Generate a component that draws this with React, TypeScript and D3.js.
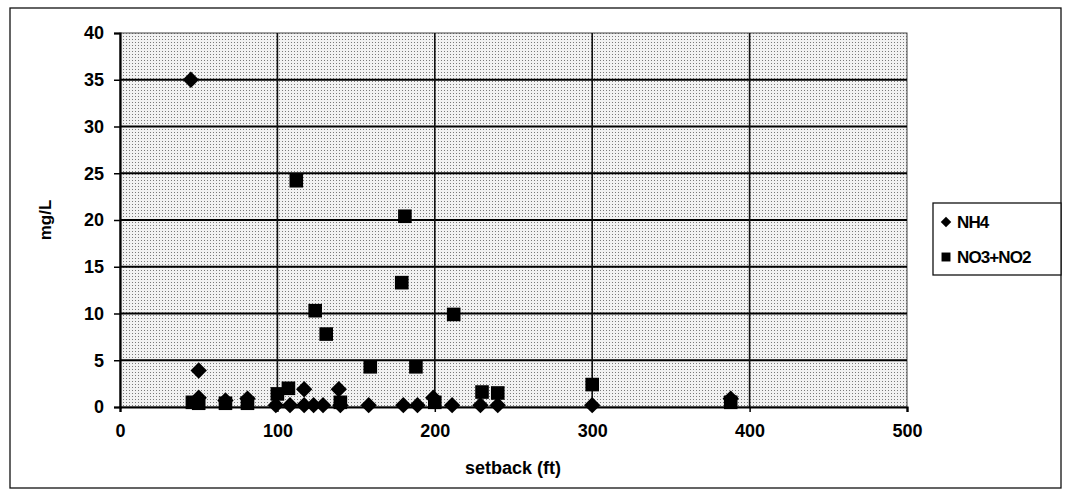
import React, { useEffect, useRef } from 'react';
import * as d3 from 'd3';

// setback (ft), mg/L
const nh4X = [45, 50, 50, 67, 81, 99, 108, 117, 117, 123, 129, 139, 140, 158, 180, 189, 199, 211, 229, 240, 300, 388];
const nh4Y = [35, 3.9, 1.0, 0.7, 0.9, 0.2, 0.2, 1.9, 0.2, 0.2, 0.2, 1.9, 0.2, 0.2, 0.2, 0.2, 1.0, 0.2, 0.2, 0.2, 0.2, 0.9];

const no3X = [46, 50, 67, 81, 100, 107, 112, 124, 131, 140, 159, 179, 181, 188, 200, 212, 230, 240, 300, 388];
const no3Y = [0.5, 0.4, 0.4, 0.4, 1.4, 2.0, 24.2, 10.3, 7.8, 0.5, 4.3, 13.3, 20.4, 4.3, 0.5, 9.9, 1.6, 1.5, 2.4, 0.5];

const xTicks = [0, 100, 200, 300, 400, 500];
const yTicks = [0, 5, 10, 15, 20, 25, 30, 35, 40];
const seriesNames = ['NH4', 'NO3+NO2'];

const FONT = '"Liberation Sans", Arial, sans-serif';

const App: React.FC = () => {
  const svgRef = useRef<SVGSVGElement | null>(null);

  useEffect(() => {
    if (!svgRef.current) return;
    const svg = d3.select(svgRef.current);
    svg.selectAll('*').remove();

    const plot = { left: 120, right: 907, top: 33, bottom: 407 };

    // outer frame
    svg.append('rect')
      .attr('x', 10).attr('y', 8)
      .attr('width', 1051).attr('height', 480)
      .attr('fill', 'white')
      .attr('stroke', '#111').attr('stroke-width', 1.3);

    // dotted gray fill like the scan
    const defs = svg.append('defs');
    const pat = defs.append('pattern')
      .attr('id', 'dots')
      .attr('width', 3).attr('height', 3)
      .attr('patternUnits', 'userSpaceOnUse');
    pat.append('rect').attr('width', 3).attr('height', 3).attr('fill', '#f2f2f2');
    pat.append('rect').attr('width', 1).attr('height', 1).attr('fill', '#7a7a7a');

    const x = d3.scaleLinear().domain([0, 500]).range([plot.left, plot.right]);
    const y = d3.scaleLinear().domain([0, 40]).range([plot.bottom, plot.top]);

    svg.append('rect')
      .attr('x', plot.left).attr('y', plot.top)
      .attr('width', plot.right - plot.left).attr('height', plot.bottom - plot.top)
      .attr('fill', 'url(#dots)')
      .attr('stroke', '#444').attr('stroke-width', 1);

    // gridlines
    svg.append('g')
      .selectAll('line')
      .data(yTicks.slice(1, -1))
      .join('line')
      .attr('x1', plot.left).attr('x2', plot.right)
      .attr('y1', d => y(d)).attr('y2', d => y(d))
      .attr('stroke', '#000').attr('stroke-width', 2.2);

    svg.append('g')
      .selectAll('line')
      .data(xTicks.slice(1, -1))
      .join('line')
      .attr('x1', d => x(d)).attr('x2', d => x(d))
      .attr('y1', plot.top).attr('y2', plot.bottom)
      .attr('stroke', '#111').attr('stroke-width', 1.6);

    // axes
    const xAxis = d3.axisBottom(x).tickValues(xTicks).tickSize(5).tickPadding(12);
    const yAxis = d3.axisLeft(y).tickValues(yTicks).tickSize(6).tickPadding(10);

    const gx = svg.append('g')
      .attr('transform', `translate(0,${plot.bottom})`)
      .call(xAxis);
    const gy = svg.append('g')
      .attr('transform', `translate(${plot.left},0)`)
      .call(yAxis);

    [gx, gy].forEach(g => {
      g.select('.domain').attr('stroke', '#000').attr('stroke-width', 2.2);
      g.selectAll('.tick line').attr('stroke', '#000').attr('stroke-width', 1.5);
      g.selectAll('.tick text')
        .attr('font-family', FONT)
        .attr('font-weight', 'bold')
        .attr('font-size', 18)
        .attr('fill', '#000');
    });

    // axis labels
    svg.append('text')
      .attr('x', 513)
      .attr('y', 474)
      .attr('text-anchor', 'middle')
      .attr('font-family', FONT)
      .attr('font-weight', 'bold')
      .attr('font-size', 18)
      .text('setback (ft)');

    svg.append('text')
      .attr('transform', 'rotate(-90)')
      .attr('x', -(plot.top + plot.bottom) / 2)
      .attr('y', 51)
      .attr('text-anchor', 'middle')
      .attr('font-family', FONT)
      .attr('font-weight', 'bold')
      .attr('font-size', 17)
      .text('mg/L');

    const diamond = d3.symbol().type(d3.symbolDiamond2).size(170);
    const square = d3.symbol().type(d3.symbolSquare).size(185);

    const nh4 = nh4X.map((v, i) => [v, nh4Y[i]]);
    const no3 = no3X.map((v, i) => [v, no3Y[i]]);

    svg.append('g')
      .selectAll('path')
      .data(no3)
      .join('path')
      .attr('d', square()!)
      .attr('transform', d => `translate(${x(d[0])},${y(d[1])})`)
      .attr('fill', '#000');

    svg.append('g')
      .selectAll('path')
      .data(nh4)
      .join('path')
      .attr('d', diamond()!)
      .attr('transform', d => `translate(${x(d[0])},${y(d[1])})`)
      .attr('fill', '#000');

    // legend
    const lg = svg.append('g').attr('transform', 'translate(933,203)');
    lg.append('rect')
      .attr('width', 128).attr('height', 72)
      .attr('fill', 'white')
      .attr('stroke', '#111').attr('stroke-width', 1.3);
    const shapes = [d3.symbol().type(d3.symbolDiamond2).size(70)(), d3.symbol().type(d3.symbolSquare).size(80)()];
    seriesNames.forEach((name, i) => {
      const row = lg.append('g').attr('transform', `translate(13,${19 + i * 35})`);
      row.append('path').attr('d', shapes[i]!).attr('fill', '#000');
      row.append('text')
        .attr('x', 11).attr('y', 6)
        .attr('font-family', FONT)
        .attr('font-weight', 'bold')
        .attr('font-size', 17)
        .attr('letter-spacing', -0.9)
        .text(name);
    });
  }, []);

  return (
    <svg
      ref={svgRef}
      width={1065}
      height={493}
      style={{ position: 'absolute', left: 0, top: 0, background: 'white' }}
    ></svg>
  );
};

export default App;
